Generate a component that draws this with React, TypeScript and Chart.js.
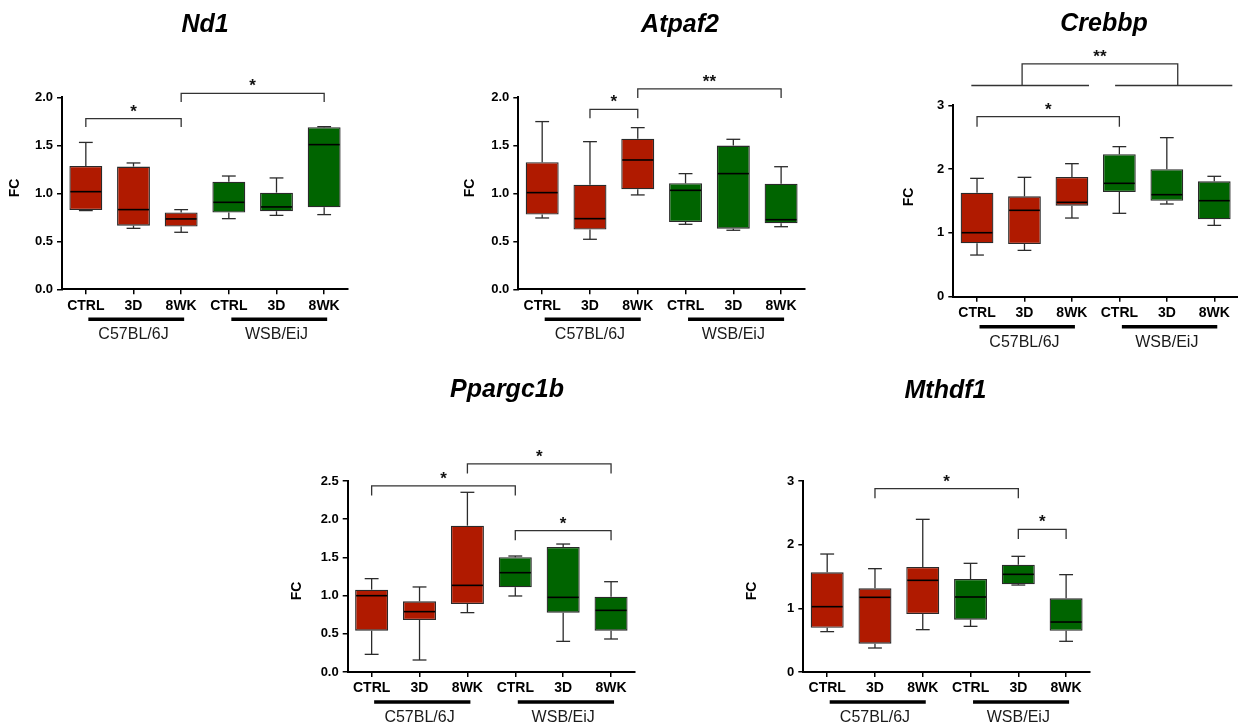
import React, { useEffect, useRef } from 'react';
import { Chart, registerables } from 'chart.js';

Chart.register(...registerables);
Chart.defaults.font.family = '"Liberation Sans", Arial, Helvetica, sans-serif';

const FONT = '"Liberation Sans", Arial, Helvetica, sans-serif';

// categories
const categories = ['CTRL', '3D', '8WK', 'CTRL', '3D', '8WK'];
const strains = ['C57BL/6J', 'WSB/EiJ'];
const strainSpans = [[0, 2], [3, 5]];
const RED = '#B01A00';
const GREEN = '#006400';
const boxColors = [RED, RED, RED, GREEN, GREEN, GREEN];

// tick labels
const ticksHalf2 = [0, 0.5, 1.0, 1.5, 2.0];
const ticksHalf25 = [0, 0.5, 1.0, 1.5, 2.0, 2.5];
const ticksInt3 = [0, 1, 2, 3];

// Nd1
const nd1Min = [0.82, 0.635, 0.594, 0.736, 0.77, 0.778];
const nd1Q1 = [0.826, 0.663, 0.653, 0.8, 0.813, 0.854];
const nd1Med = [1.017, 0.83, 0.733, 0.906, 0.858, 1.507];
const nd1Q3 = [1.285, 1.278, 0.8, 1.12, 1.007, 1.688];
const nd1Max = [1.53, 1.316, 0.83, 1.18, 1.16, 1.694];
const nd1Sig = [
  { from: 0, to: 2, level: 1.778, label: '*' },
  { from: 2, to: 5, level: 2.04, label: '*' },
];

// Atpaf2
const atpaf2Min = [0.743, 0.521, 0.983, 0.677, 0.615, 0.652];
const atpaf2Q1 = [0.778, 0.622, 1.042, 0.701, 0.632, 0.688];
const atpaf2Med = [1.007, 0.736, 1.347, 1.031, 1.205, 0.725];
const atpaf2Q3 = [1.323, 1.09, 1.569, 1.104, 1.497, 1.099];
const atpaf2Max = [1.747, 1.538, 1.684, 1.205, 1.5625, 1.277];
const atpaf2Sig = [
  { from: 1, to: 2, level: 1.875, label: '*' },
  { from: 2, to: 5, level: 2.087, label: '**' },
];

// Crebbp
const crebbpMin = [0.653, 0.726, 1.233, 1.307, 1.453, 1.118];
const crebbpQ1 = [0.836, 0.826, 1.427, 1.641, 1.505, 1.213];
const crebbpMed = [1.003, 1.354, 1.479, 1.777, 1.599, 1.505];
const crebbpQ3 = [1.63, 1.573, 1.876, 2.232, 1.997, 1.808];
const crebbpMax = [1.855, 1.871, 2.085, 2.352, 2.493, 1.887];
const crebbpSig = [{ from: 0, to: 3, level: 2.822, label: '*' }];
const crebbpStrainSig = {
  lineLevel: 3.31,
  lines: [[-0.12, 2.36], [2.91, 5.38]],
  from: 0.95,
  to: 4.23,
  level: 3.65,
  label: '**',
};

// Ppargc1b
const ppargMin = [0.231, 0.157, 0.777, 0.995, 0.401, 0.432];
const ppargQ1 = [0.541, 0.681, 0.89, 1.108, 0.777, 0.541];
const ppargMed = [0.999, 0.79, 1.134, 1.3, 0.977, 0.807];
const ppargQ3 = [1.078, 0.925, 1.915, 1.501, 1.636, 0.986];
const ppargMax = [1.222, 1.113, 2.352, 1.518, 1.675, 1.182];
const ppargSig = [
  { from: 0, to: 3, level: 2.435, label: '*' },
  { from: 2, to: 5, level: 2.723, label: '*' },
  { from: 3, to: 5, level: 1.85, label: '*' },
];

// Mthdf1
const mthdfMin = [0.634, 0.377, 0.665, 0.717, 1.366, 0.482];
const mthdfQ1 = [0.696, 0.445, 0.911, 0.822, 1.377, 0.649];
const mthdfMed = [1.026, 1.173, 1.44, 1.178, 1.534, 0.785];
const mthdfQ3 = [1.565, 1.314, 1.649, 1.461, 1.686, 1.157];
const mthdfMax = [1.853, 1.623, 2.398, 1.707, 1.817, 1.529];
const mthdfSig = [
  { from: 1, to: 4, level: 2.88, label: '*' },
  { from: 4, to: 5, level: 2.24, label: '*' },
];

const panels = [
  {
    title: 'Nd1', L: 62, R: 348, T: 97.3, B: 289.3, yMax: 2, ticks: ticksHalf2, dec: 1,
    titleX: 205, titleY: 32, fcX: 15.5, fcY: 188, canvasTop: 0, canvasH: 360, leg: 8.5,
    min: nd1Min, q1: nd1Q1, med: nd1Med, q3: nd1Q3, max: nd1Max, sig: nd1Sig, strainSig: null,
  },
  {
    title: 'Atpaf2', L: 518.3, R: 805, T: 97.3, B: 289.3, yMax: 2, ticks: ticksHalf2, dec: 1,
    titleX: 680, titleY: 32, fcX: 470.5, fcY: 188, canvasTop: 0, canvasH: 360, leg: 9,
    min: atpaf2Min, q1: atpaf2Q1, med: atpaf2Med, q3: atpaf2Q3, max: atpaf2Max, sig: atpaf2Sig, strainSig: null,
  },
  {
    title: 'Crebbp', L: 953.3, R: 1238, T: 105.3, B: 296.7, yMax: 3, ticks: ticksInt3, dec: 0,
    titleX: 1104, titleY: 31, fcX: 908.7, fcY: 197, canvasTop: 0, canvasH: 360, leg: 10,
    min: crebbpMin, q1: crebbpQ1, med: crebbpMed, q3: crebbpQ3, max: crebbpMax, sig: crebbpSig, strainSig: crebbpStrainSig,
  },
  {
    title: 'Ppargc1b', L: 347.7, R: 635, T: 481, B: 672, yMax: 2.5, ticks: ticksHalf25, dec: 1,
    titleX: 507, titleY: 397, fcX: 296.7, fcY: 591, canvasTop: 360, canvasH: 367, leg: 9.5,
    min: ppargMin, q1: ppargQ1, med: ppargMed, q3: ppargQ3, max: ppargMax, sig: ppargSig, strainSig: null,
  },
  {
    title: 'Mthdf1', L: 803.3, R: 1090, T: 481, B: 672, yMax: 3, ticks: ticksInt3, dec: 0,
    titleX: 945.5, titleY: 398, fcX: 752, fcY: 591, canvasTop: 360, canvasH: 367, leg: 9.5,
    min: mthdfMin, q1: mthdfQ1, med: mthdfMed, q3: mthdfQ3, max: mthdfMax, sig: mthdfSig, strainSig: null,
  },
];

const Y_AXIS_W = 60;
const X_AXIS_H = 45;

function line(ctx, x1, y1, x2, y2) {
  ctx.beginPath();
  ctx.moveTo(x1, y1);
  ctx.lineTo(x2, y2);
  ctx.stroke();
}

function Panel({ p }) {
  const ref = useRef(null);
  const canvasLeft = Math.floor(p.L - Y_AXIS_W);
  const padLeft = p.L - Y_AXIS_W - canvasLeft;
  const canvasRight = Math.ceil(p.R + 3);
  const padRight = canvasRight - p.R;
  const width = canvasRight - canvasLeft;
  const height = p.canvasH;
  const padTop = p.T - p.canvasTop;
  const padBottom = p.canvasTop + height - p.B - X_AXIS_H;

  useEffect(() => {
    const extras = {
      id: 'boxExtras',
      afterDraw(chart) {
        const ctx = chart.ctx;
        const xs = chart.scales.x;
        const ys = chart.scales.y;
        const area = chart.chartArea;
        const meta = chart.getDatasetMeta(0);
        ctx.save();
        // whiskers and medians
        meta.data.forEach((el, i) => {
          const pr = el.getProps(['x', 'width'], true);
          const cx = pr.x;
          const w = pr.width;
          const cap = w * 0.21;
          const yMaxPx = ys.getPixelForValue(p.max[i]);
          const yMinPx = ys.getPixelForValue(p.min[i]);
          const yQ3 = ys.getPixelForValue(p.q3[i]);
          const yQ1 = ys.getPixelForValue(p.q1[i]);
          const yMed = ys.getPixelForValue(p.med[i]);
          ctx.strokeStyle = '#2b2b2b';
          ctx.lineWidth = 1.3;
          line(ctx, cx, yQ3, cx, yMaxPx);
          line(ctx, cx - cap, yMaxPx, cx + cap, yMaxPx);
          line(ctx, cx, yQ1, cx, yMinPx);
          line(ctx, cx - cap, yMinPx, cx + cap, yMinPx);
          ctx.strokeStyle = '#000';
          ctx.lineWidth = 1.6;
          line(ctx, cx - w / 2 + 1, yMed, cx + w / 2 - 1, yMed);
        });
        // significance brackets
        ctx.strokeStyle = '#333';
        ctx.fillStyle = '#111';
        ctx.lineWidth = 1.3;
        ctx.font = 'bold 17px ' + FONT;
        ctx.textAlign = 'center';
        ctx.textBaseline = 'alphabetic';
        p.sig.forEach((b) => {
          const x1 = xs.getPixelForValue(b.from);
          const x2 = xs.getPixelForValue(b.to);
          const yl = ys.getPixelForValue(b.level);
          ctx.beginPath();
          ctx.moveTo(x1, yl + p.leg);
          ctx.lineTo(x1, yl);
          ctx.lineTo(x2, yl);
          ctx.lineTo(x2, yl + p.leg);
          ctx.stroke();
          ctx.fillText(b.label, (x1 + x2) / 2, yl - 2);
        });
        if (p.strainSig) {
          const s = p.strainSig;
          const yLine = ys.getPixelForValue(s.lineLevel);
          s.lines.forEach((l) => {
            line(ctx, xs.getPixelForValue(l[0]), yLine, xs.getPixelForValue(l[1]), yLine);
          });
          const x1 = xs.getPixelForValue(s.from);
          const x2 = xs.getPixelForValue(s.to);
          const yl = ys.getPixelForValue(s.level);
          ctx.beginPath();
          ctx.moveTo(x1, yLine);
          ctx.lineTo(x1, yl);
          ctx.lineTo(x2, yl);
          ctx.lineTo(x2, yLine);
          ctx.stroke();
          ctx.fillText(s.label, (x1 + x2) / 2, yl - 2);
        }
        // strain underlines and labels
        ctx.strokeStyle = '#000';
        ctx.lineWidth = 3.5;
        ctx.fillStyle = '#1a1a1a';
        ctx.font = '16px ' + FONT;
        ctx.textBaseline = 'middle';
        strainSpans.forEach((sp, gi) => {
          const a = xs.getPixelForValue(sp[0]) + 2.5;
          const b = xs.getPixelForValue(sp[1]) + 3;
          line(ctx, a, area.bottom + 30, b, area.bottom + 30);
          const mid = xs.getPixelForValue((sp[0] + sp[1]) / 2);
          ctx.fillText(strains[gi], mid, area.bottom + 45.5);
        });
        // title
        ctx.fillStyle = '#000';
        ctx.font = 'italic bold 25px ' + FONT;
        ctx.textBaseline = 'alphabetic';
        ctx.fillText(p.title, p.titleX - canvasLeft, p.titleY - p.canvasTop);
        // FC axis label
        ctx.translate(p.fcX - canvasLeft, p.fcY - p.canvasTop);
        ctx.rotate(-Math.PI / 2);
        ctx.font = 'bold 14px ' + FONT;
        ctx.textBaseline = 'middle';
        ctx.fillText('FC', 0, 0);
        ctx.restore();
      },
    };

    const chart = new Chart(ref.current, {
      type: 'bar',
      data: {
        labels: categories,
        datasets: [
          {
            data: p.q1.map((v, i) => [v, p.q3[i]]),
            backgroundColor: boxColors,
            borderColor: '#2a2a2a',
            borderWidth: 1.3,
            borderSkipped: false,
            barPercentage: 0.69,
            categoryPercentage: 1,
          },
        ],
      },
      options: {
        animation: false,
        responsive: false,
        devicePixelRatio: 1,
        layout: { padding: { left: padLeft, right: padRight, top: padTop, bottom: padBottom } },
        plugins: { legend: { display: false }, tooltip: { enabled: false }, title: { display: false } },
        scales: {
          x: {
            type: 'category',
            offset: true,
            grid: { offset: false, drawOnChartArea: false, drawTicks: true, tickLength: 5, color: '#000', lineWidth: 1.5 },
            border: { display: true, color: '#000', width: 2 },
            ticks: {
              color: '#000',
              font: { size: 14, weight: 'bold' },
              padding: 3,
              autoSkip: false,
              maxRotation: 0,
              minRotation: 0,
            },
            afterFit: (s) => {
              s.height = X_AXIS_H;
            },
          },
          y: {
            type: 'linear',
            min: 0,
            max: p.yMax,
            grid: { drawOnChartArea: false, drawTicks: true, tickLength: 5, color: '#000', lineWidth: 1.5 },
            border: { display: true, color: '#000', width: 2 },
            ticks: {
              color: '#000',
              font: { size: 13, weight: 'bold' },
              padding: 4,
              callback: (v) => Number(v).toFixed(p.dec),
            },
            afterBuildTicks: (s) => {
              s.ticks = p.ticks.map((v) => ({ value: v }));
            },
            afterFit: (s) => {
              s.width = Y_AXIS_W;
            },
          },
        },
      },
      plugins: [extras],
    });
    return () => chart.destroy();
  }, []);

  return (
    <canvas
      ref={ref}
      width={width}
      height={height}
      style={{ position: 'absolute', left: canvasLeft, top: p.canvasTop, width, height }}
    />
  );
}

export default function App() {
  return (
    <div
      style={{
        position: 'fixed',
        left: 0,
        top: 0,
        width: 1238,
        height: 727,
        background: '#fff',
        overflow: 'hidden',
      }}
    >
      {panels.map((p) => (
        <Panel key={p.title} p={p} />
      ))}
    </div>
  );
}
